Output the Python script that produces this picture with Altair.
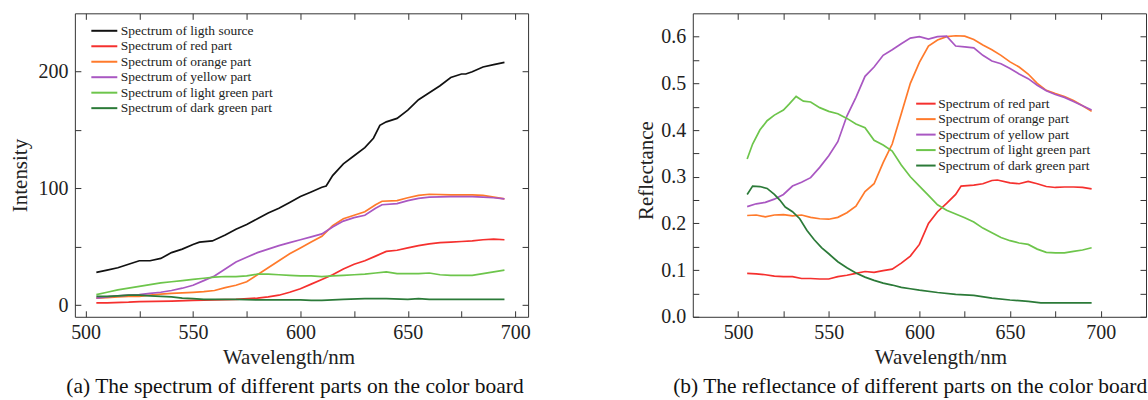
import altair as alt
import pandas as pd

FONT = "Liberation Serif"

# ---------------- Panel (a): spectra (intensity) ----------------
A_NAMES = ["Spectrum of ligth source", "Spectrum of red part", "Spectrum of orange part",
           "Spectrum of yellow part", "Spectrum of light green part", "Spectrum of dark green part"]
A_COLORS = ["#111111", "#f5302e", "#ff7a2b", "#a957c2", "#6dc54b", "#2b7a38"]

a_src_wl = [505, 510, 515, 520, 525, 530, 535, 540, 545, 550, 553, 559, 565, 570, 575, 580, 585, 590,
            595, 600, 605, 610, 612, 615, 620, 625, 630, 634, 637, 640, 645, 650, 655, 660, 665, 670,
            675, 677, 680, 685, 690, 695]
a_src_val = [28, 30, 32, 35, 38, 38, 40, 45, 48, 52, 54, 55, 60, 65, 69, 74, 79, 83,
             88, 93, 97, 101, 102, 111, 121, 128, 135, 143, 154, 157, 160, 167, 176, 182, 188, 195,
             198, 198, 200, 204, 206, 208]

a_red_wl = [505, 510, 520, 525, 540, 550, 560, 570, 580, 585, 590, 595, 600, 605, 610, 615, 620,
            625, 630, 635, 640, 645, 650, 655, 660, 665, 670, 675, 680, 685, 690, 695]
a_red_val = [2, 2, 2.5, 3, 3.5, 4, 4.5, 5, 6, 7, 8.5, 11, 14, 18, 22, 26, 31,
             35, 38, 42, 46, 47, 49, 51, 52.5, 53.5, 54, 54.5, 55, 56, 56.5, 56]

a_org_wl = [505, 510, 515, 520, 525, 530, 535, 540, 545, 550, 555, 560, 565, 570, 575, 580, 585,
            590, 595, 600, 605, 610, 615, 620, 625, 630, 635, 638, 645, 650, 655, 660, 670, 680,
            685, 690, 695]
a_org_val = [6, 6.5, 7, 7.5, 7.5, 8.5, 9.5, 10, 10.5, 11, 11.5, 12.5, 15, 17, 20, 26, 32,
             38, 44, 49, 54, 59, 68, 74, 77, 80, 86, 89, 89.5, 92, 94, 95, 94.5, 94.5,
             94, 92.5, 91]

a_yel_wl = [505, 510, 515, 520, 525, 530, 535, 540, 545, 550, 555, 560, 565, 570, 575, 580, 585,
            590, 595, 600, 605, 610, 615, 620, 625, 630, 635, 638, 645, 650, 655, 660, 670, 680,
            685, 690, 695]
a_yel_val = [6, 7, 8, 8.5, 9, 10, 11, 12.5, 14.5, 17, 21, 25, 31, 37, 41, 45, 48,
             51, 53.5, 56, 58.5, 61, 67, 72, 75, 77, 83, 86, 87, 89.5, 91.5, 92.5, 93, 93,
             92.5, 92, 91]

a_lgr_wl = [505, 510, 515, 520, 525, 530, 535, 540, 545, 550, 555, 560, 565, 570, 575, 580, 585,
            590, 595, 600, 605, 610, 615, 620, 625, 630, 635, 640, 645, 650, 655, 660, 665, 670,
            680, 685, 690, 695]
a_lgr_val = [9, 11, 13, 14.5, 16, 17.5, 19, 20, 21, 22, 23, 24, 24.5, 24.5, 25, 26.5, 26.5,
             26, 25.5, 25, 25, 24.5, 25, 25.5, 26, 26.5, 27.5, 28.5, 27, 27, 27, 27.5, 26, 25.5,
             25.5, 27, 28.5, 30]

a_dgr_wl = [505, 510, 515, 520, 525, 530, 535, 540, 545, 550, 555, 560, 570, 580, 590, 600, 605,
            610, 615, 620, 630, 640, 650, 655, 660, 670, 680, 695]
a_dgr_val = [7.5, 7.5, 8, 8.5, 8.5, 8, 7.5, 7, 6, 5.5, 5, 5, 5, 4.5, 4.5, 4.5, 4,
             4, 4.5, 5, 5.5, 5.5, 5, 5.5, 5, 5, 5, 5]

# ---------------- Panel (b): reflectance ----------------
B_NAMES = A_NAMES[1:]
B_COLORS = A_COLORS[1:]

b_red_wl = [505, 510, 515, 520, 525, 530, 535, 540, 545, 550, 555, 560, 565, 570, 575, 580, 585,
            590, 595, 600, 605, 610, 615, 620, 623, 630, 635, 640, 643, 650, 655, 660, 665, 670,
            675, 680, 685, 690, 695]
b_red_val = [0.093, 0.092, 0.090, 0.087, 0.086, 0.086, 0.082, 0.082, 0.081, 0.081, 0.086, 0.089,
             0.093, 0.097, 0.095, 0.099, 0.102, 0.115, 0.130, 0.155, 0.200, 0.225, 0.243, 0.262,
             0.280, 0.282, 0.285, 0.292, 0.293, 0.287, 0.285, 0.290, 0.285, 0.279, 0.277, 0.278,
             0.278, 0.277, 0.274]

b_org_wl = [505, 510, 515, 520, 525, 530, 535, 540, 545, 550, 555, 560, 565, 570, 575, 580, 585,
            590, 595, 600, 605, 610, 615, 620, 625, 630, 635, 640, 645, 650, 655, 660, 665, 670,
            675, 680, 685, 690, 695]
b_org_val = [0.217, 0.218, 0.214, 0.218, 0.219, 0.216, 0.218, 0.213, 0.210, 0.209, 0.213, 0.223,
             0.237, 0.268, 0.285, 0.330, 0.370, 0.435, 0.500, 0.545, 0.580, 0.593, 0.600, 0.602,
             0.601, 0.594, 0.582, 0.572, 0.560, 0.546, 0.535, 0.520, 0.500, 0.485, 0.478, 0.472,
             0.463, 0.452, 0.440]

b_yel_wl = b_org_wl
b_yel_val = [0.236, 0.242, 0.245, 0.252, 0.262, 0.280, 0.288, 0.298, 0.320, 0.345, 0.375, 0.430,
             0.470, 0.515, 0.535, 0.560, 0.572, 0.585, 0.597, 0.600, 0.595, 0.600, 0.601, 0.580,
             0.578, 0.576, 0.560, 0.548, 0.542, 0.532, 0.520, 0.510, 0.496, 0.484, 0.476, 0.470,
             0.461, 0.452, 0.443]

b_lgr_wl = [505, 508, 512, 516, 520, 525, 528, 532, 536, 540, 545, 550, 555, 560, 565, 570, 575,
            580, 585, 590, 595, 600, 605, 610, 615, 620, 625, 630, 635, 640, 645, 650, 655, 660,
            665, 670, 675, 680, 685, 690, 695]
b_lgr_val = [0.338, 0.370, 0.400, 0.420, 0.432, 0.443, 0.455, 0.472, 0.462, 0.460, 0.448, 0.440,
             0.435, 0.425, 0.413, 0.405, 0.378, 0.368, 0.355, 0.325, 0.300, 0.280, 0.260, 0.240,
             0.228, 0.220, 0.212, 0.203, 0.190, 0.180, 0.170, 0.163, 0.158, 0.155, 0.145, 0.138,
             0.137, 0.137, 0.140, 0.143, 0.148]

b_dgr_wl = [505, 508, 512, 516, 520, 523, 526, 530, 534, 538, 542, 546, 550, 555, 560, 565, 570,
            575, 580, 585, 590, 595, 600, 610, 620, 630, 640, 650, 660, 667, 680, 695]
b_dgr_val = [0.262, 0.280, 0.279, 0.275, 0.262, 0.250, 0.235, 0.225, 0.210, 0.185, 0.165, 0.148,
             0.135, 0.118, 0.105, 0.094, 0.085, 0.078, 0.072, 0.068, 0.063, 0.060, 0.057, 0.052,
             0.048, 0.046, 0.040, 0.036, 0.033, 0.030, 0.030, 0.030]

# tick values
A_XTICKS = [500, 525, 550, 575, 600, 625, 650, 675, 700]
A_YTICKS = [0, 50, 100, 150, 200]
B_XTICKS = [500, 525, 550, 575, 600, 625, 650, 675, 700]
B_YTICKS = [0.0, 0.05, 0.1, 0.15, 0.2, 0.25, 0.3, 0.35, 0.4, 0.45, 0.5, 0.55, 0.6]


def frame(series_list, names):
    rows = []
    for name, (wl, val) in zip(names, series_list):
        for i, (w, v) in enumerate(zip(wl, val)):
            rows.append({"wl": w, "val": v, "series": name, "idx": i})
    return pd.DataFrame(rows)


df_a = frame([(a_src_wl, a_src_val), (a_red_wl, a_red_val), (a_org_wl, a_org_val),
              (a_yel_wl, a_yel_val), (a_lgr_wl, a_lgr_val), (a_dgr_wl, a_dgr_val)], A_NAMES)
df_b = frame([(b_red_wl, b_red_val), (b_org_wl, b_org_val), (b_yel_wl, b_yel_val),
              (b_lgr_wl, b_lgr_val), (b_dgr_wl, b_dgr_val)], B_NAMES)

TICK = 6


def axis_common(**kw):
    base = dict(domain=False, grid=False, tickSize=TICK, offset=-TICK, tickColor="#333333",
                tickWidth=1, labelFont=FONT, labelFontSize=20, labelColor="#222222",
                titleFont=FONT, titleFontSize=21, titleFontWeight="normal", titleColor="#222222")
    base.update(kw)
    return alt.Axis(**base)


def panel(df, names, colors, xdom, ydom, xticks, yticks, xlab_expr, ylab_expr, yfmt,
          ytitle, ytitle_x, ytitle_y, xtitle_x, caption, caption_dx,
          sym_path, lx, ly, loff):
    xs = alt.Scale(domain=xdom, nice=False, zero=False)
    ys = alt.Scale(domain=ydom, nice=False, zero=False)
    lines = alt.Chart(df).mark_line(strokeWidth=1.7).encode(
        x=alt.X("wl:Q", scale=xs, axis=axis_common(
            values=xticks, labelExpr=xlab_expr, labelPadding=6, title="Wavelength/nm",
            titleX=xtitle_x, titleY=53, titleBaseline="alphabetic", orient="bottom")),
        y=alt.Y("val:Q", scale=ys, axis=axis_common(
            values=yticks, labelExpr=ylab_expr, format=yfmt, labelPadding=7, title=ytitle,
            titleX=ytitle_x, titleY=ytitle_y, titleBaseline="middle", titleAngle=-90,
            orient="left")),
        color=alt.Color("series:N", sort=names,
                        scale=alt.Scale(domain=names, range=colors),
                        legend=alt.Legend(orient="none", legendX=lx, legendY=ly, title=None,
                                          symbolType=sym_path, symbolSize=169,
                                          symbolStrokeWidth=2, labelFont=FONT,
                                          labelFontSize=13.5, labelColor="#222222",
                                          labelOffset=loff, rowPadding=1.5, labelLimit=400)),
        order="idx:Q",
    )
    mirror = alt.Chart(df).mark_point(opacity=0).encode(
        x=alt.X("wl:Q", scale=xs, axis=axis_common(values=xticks, labels=False, title=None,
                                                   orient="top")),
        y=alt.Y("val:Q", scale=ys, axis=axis_common(values=yticks, labels=False, title=None,
                                                   orient="right")),
    )
    return alt.layer(lines, mirror).resolve_axis(x="independent", y="independent").properties(
        width=454, height=304,
        title=alt.TitleParams(caption, orient="bottom", anchor="middle", frame="bounds",
                              offset=8, dx=caption_dx, font=FONT, fontSize=21.5,
                              fontWeight="normal", color="#111111"),
    )


left = panel(df_a, A_NAMES, A_COLORS, [495, 706], [-10, 250], A_XTICKS, A_YTICKS,
             "datum.value % 50 == 0 ? datum.label : ''",
             "datum.value % 100 == 0 ? datum.label : ''", "d",
             "Intensity", -60, 162, 214,
             "(a) The spectrum of different parts on the color board", 25,
             "M-2,0L2,0", 22, 10, 9)

right = panel(df_b, B_NAMES, B_COLORS, [475, 725], [0, 0.65], B_XTICKS, B_YTICKS,
              "datum.value % 50 == 0 ? datum.label : ''",
              "abs(round(datum.value * 100) % 10) == 0 ? datum.label : ''", ".1f",
              "Reflectance", -52, 157, 248,
              "(b) The reflectance of different parts on the color board", 19,
              "M-1.5,0L1.5,0", 226, 83, 5)

chart = alt.hconcat(left, right, spacing=165, bounds="flush").resolve_scale(
    color="independent"
).properties(
    padding={"left": 9, "top": 12, "right": 0, "bottom": 0},
    background="white",
).configure_view(stroke="#333333", strokeWidth=1)

chart.save("out.html", embed_options={"renderer": "svg", "actions": False})
